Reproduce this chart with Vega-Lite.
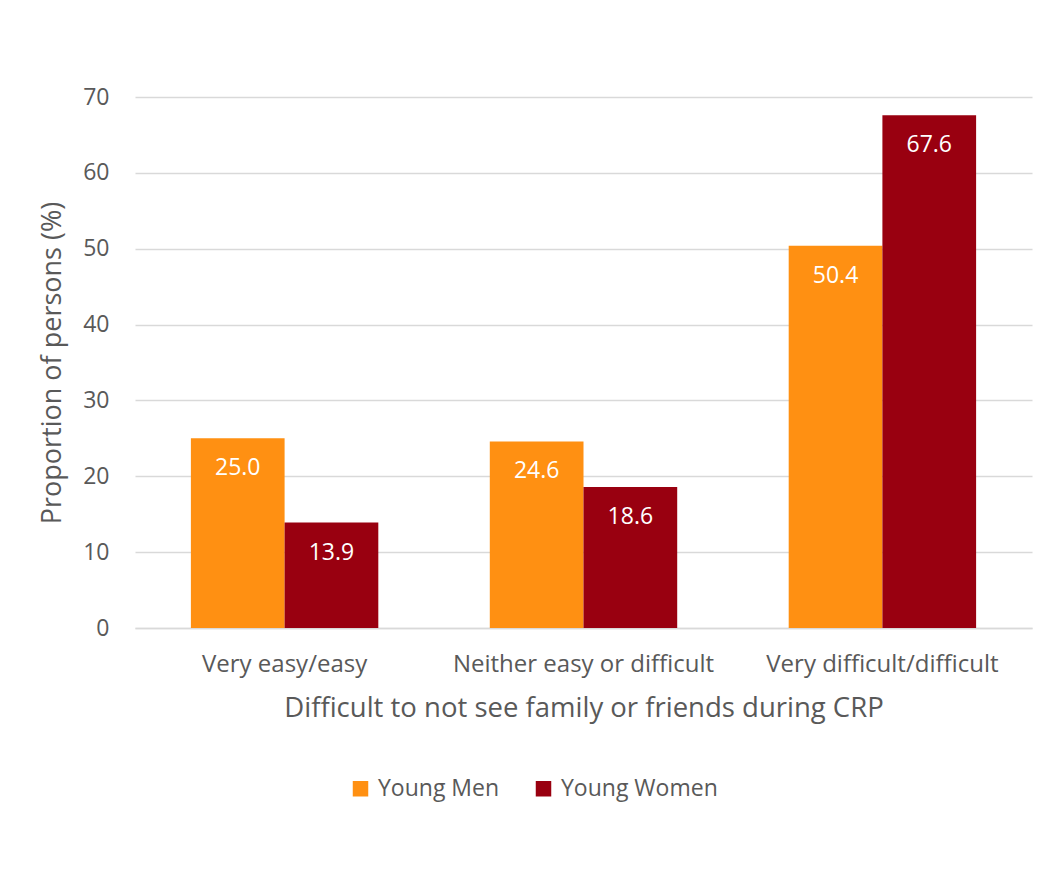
{
  "$schema": "https://vega.github.io/schema/vega-lite/v6.json",
  "width": 897,
  "height": 531,
  "autosize": "none",
  "padding": {"left": 135, "top": 97, "right": 27, "bottom": 244},
  "background": "white",
  "config": {
    "view": {"stroke": null},
    "font": "Open Sans",
    "axis": {"labelFont": "Open Sans", "titleFont": "Open Sans", "labelColor": "#595959", "titleColor": "#595959", "titleFontWeight": "normal"}
  },
  "data": {
    "values": [
      {"category": "Very easy/easy", "group": "Young Men", "value": 25.0},
      {"category": "Very easy/easy", "group": "Young Women", "value": 13.9},
      {"category": "Neither easy or difficult", "group": "Young Men", "value": 24.6},
      {"category": "Neither easy or difficult", "group": "Young Women", "value": 18.6},
      {"category": "Very difficult/difficult", "group": "Young Men", "value": 50.4},
      {"category": "Very difficult/difficult", "group": "Young Women", "value": 67.6}
    ]
  },
  "encoding": {
    "x": {
      "field": "category", "type": "nominal", "sort": null,
      "scale": {"paddingInner": 0.373, "paddingOuter": 0.187},
      "axis": {
        "title": "Difficult to not see family or friends during CRP",
        "labelAngle": 0, "labelFontSize": 24, "labelPadding": 24, "ticks": false, "labelLimit": 400,
        "domainColor": "#d9d9d9", "domainWidth": 1.5,
        "titleFontSize": 27.5, "titlePadding": 18
      }
    },
    "xOffset": {"field": "group", "type": "nominal"},
    "y": {
      "field": "value", "type": "quantitative",
      "scale": {"domain": [0, 70], "nice": false},
      "axis": {
        "title": "Proportion of persons (%)",
        "values": [0, 10, 20, 30, 40, 50, 60, 70],
        "labelFontSize": 23, "labelPadding": 26, "ticks": false, "domain": false,
        "gridColor": "#d9d9d9", "gridWidth": 1.5,
        "titleFontSize": 27, "titlePadding": 16
      }
    }
  },
  "layer": [
    {
      "mark": {"type": "bar"},
      "encoding": {
        "color": {
          "field": "group", "type": "nominal",
          "scale": {"domain": ["Young Men", "Young Women"], "range": ["#FF9012", "#990010"]},
          "legend": {
            "title": null, "orient": "none", "direction": "horizontal",
            "legendX": 214, "legendY": 680,
            "symbolType": "square", "symbolSize": 240, "symbolStrokeWidth": 0,
            "labelFontSize": 23, "labelColor": "#595959", "labelFont": "Open Sans", "labelLimit": 300,
            "columnPadding": 32, "labelOffset": 6
          }
        }
      }
    },
    {
      "mark": {"type": "text", "color": "white", "fontSize": 23, "baseline": "middle", "dy": 30, "font": "Open Sans"},
      "encoding": {
        "text": {"field": "value", "type": "quantitative", "format": ".1f"}
      }
    }
  ]
}
